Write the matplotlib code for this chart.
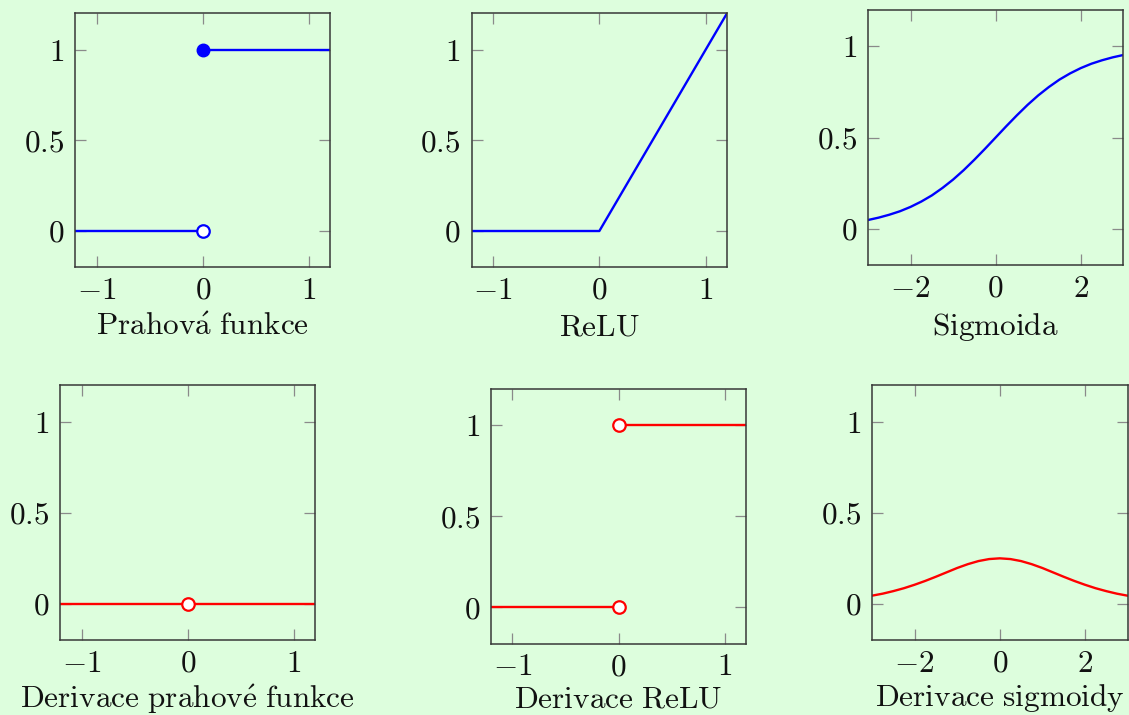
import matplotlib
matplotlib.use("Agg")
import matplotlib.pyplot as plt
from matplotlib.ticker import FuncFormatter

plt.rcParams['mathtext.fontset'] = 'cm'
plt.rcParams['font.family'] = 'serif'
plt.rcParams['font.serif'] = ['cmr10']
plt.rcParams['axes.formatter.use_mathtext'] = True

# ---- data ----
step_x_left = [-1.2, 0.0]
step_y_left = [0.0, 0.0]
step_x_right = [0.0, 1.2]
step_y_right = [1.0, 1.0]

relu_x = [-1.2, 0.0, 1.2]
relu_y = [0.0, 0.0, 1.2]

sig_x = [-3.0, -2.75, -2.5, -2.25, -2.0, -1.75, -1.5, -1.25, -1.0, -0.75, -0.5, -0.25,
         0.0, 0.25, 0.5, 0.75, 1.0, 1.25, 1.5, 1.75, 2.0, 2.25, 2.5, 2.75, 3.0]
sig_y = [0.047, 0.060, 0.076, 0.095, 0.119, 0.148, 0.182, 0.223, 0.269, 0.321, 0.378, 0.438,
         0.500, 0.562, 0.622, 0.679, 0.731, 0.777, 0.818, 0.852, 0.881, 0.905, 0.924, 0.940, 0.953]

dstep_x = [-1.2, 1.2]
dstep_y = [0.0, 0.0]

drelu_x_left = [-1.2, 0.0]
drelu_y_left = [0.0, 0.0]
drelu_x_right = [0.0, 1.2]
drelu_y_right = [1.0, 1.0]

dsig_y = [0.045, 0.056, 0.070, 0.086, 0.105, 0.126, 0.149, 0.173, 0.197, 0.218, 0.235, 0.246,
          0.250, 0.246, 0.235, 0.218, 0.197, 0.173, 0.149, 0.126, 0.105, 0.086, 0.070, 0.056, 0.045]

titles = [r'$\mathrm{Prahov\acute{a}\ funkce}$', r'$\mathrm{ReLU}$', r'$\mathrm{Sigmoida}$',
          r'$\mathrm{Derivace\ prahov\acute{e}\ funkce}$', r'$\mathrm{Derivace\ ReLU}$',
          r'$\mathrm{Derivace\ sigmoidy}$']
small_xticks = [-1, 0, 1]
big_xticks = [-2, 0, 2]
yticks = [0, 0.5, 1]

BG = '#ddfedd'
BLUE = '#0000ff'
RED = '#ff0000'
W, H = 1129, 715
FS = 22.5

fig = plt.figure(figsize=(W / 100, H / 100), dpi=100, facecolor=BG)

# pixel boxes: left, top, right, bottom
boxes = [
    (75.3, 13.3, 330.3, 267.3),
    (471.7, 13.3, 727.0, 267.3),
    (868.0, 10.0, 1123.3, 265.0),
    (60.3, 385.3, 315.3, 640.3),
    (491.0, 389.0, 746.0, 643.7),
    (872.0, 385.3, 1127.5, 640.3),
]

fmt = FuncFormatter(lambda v, p: '$%g$' % v)

axes = []
for (l, t, r, b) in boxes:
    ax = fig.add_axes([l / W, 1 - b / H, (r - l) / W, (b - t) / H])
    ax.set_facecolor(BG)
    for s in ax.spines.values():
        s.set_color('#383838')
        s.set_linewidth(1.1)
    ax.tick_params(direction='in', top=True, right=True, length=8, width=0.9,
                   color='#8a8a8a', labelsize=FS, labelcolor='#111111')
    ax.tick_params(axis='y', pad=8)
    ax.tick_params(axis='x', pad=7)
    ax.set_ylim(-0.2, 1.2)
    ax.set_yticks(yticks)
    ax.xaxis.set_major_formatter(fmt)
    ax.yaxis.set_major_formatter(fmt)
    axes.append(ax)

LW = 1.7
MS = 9

# 1 threshold
ax = axes[0]
ax.plot(step_x_left, step_y_left, color=BLUE, lw=LW)
ax.plot(step_x_right, step_y_right, color=BLUE, lw=LW)
ax.plot([step_x_right[0]], [step_y_right[0]], 'o', color=BLUE, ms=MS, zorder=5)
ax.plot([step_x_left[-1]], [step_y_left[-1]], 'o', mfc='white', mec=BLUE, mew=1.6, ms=MS, zorder=5)
ax.set_xlim(-1.2, 1.2)
ax.set_xticks(small_xticks)

# 2 ReLU
ax = axes[1]
ax.plot(relu_x, relu_y, color=BLUE, lw=LW)
ax.set_xlim(-1.2, 1.2)
ax.set_xticks(small_xticks)

# 3 sigmoid
ax = axes[2]
ax.plot(sig_x, sig_y, color=BLUE, lw=LW)
ax.set_xlim(-3, 3)
ax.set_xticks(big_xticks)

# 4 derivative threshold
ax = axes[3]
ax.plot(dstep_x, dstep_y, color=RED, lw=LW)
ax.plot([0.0], [0.0], 'o', mfc='white', mec=RED, mew=1.6, ms=MS, zorder=5)
ax.set_xlim(-1.2, 1.2)
ax.set_xticks(small_xticks)

# 5 derivative ReLU
ax = axes[4]
ax.plot(drelu_x_left, drelu_y_left, color=RED, lw=LW)
ax.plot(drelu_x_right, drelu_y_right, color=RED, lw=LW)
ax.plot([drelu_x_left[-1]], [drelu_y_left[-1]], 'o', mfc='white', mec=RED, mew=1.6, ms=MS, zorder=5)
ax.plot([drelu_x_right[0]], [drelu_y_right[0]], 'o', mfc='white', mec=RED, mew=1.6, ms=MS, zorder=5)
ax.set_xlim(-1.2, 1.2)
ax.set_xticks(small_xticks)

# 6 derivative sigmoid
ax = axes[5]
ax.plot(sig_x, dsig_y, color=RED, lw=LW)
ax.set_xlim(-3, 3)
ax.set_xticks(big_xticks)

for i, (ax, t) in enumerate(zip(axes, titles)):
    ax.set_xlabel(t, fontsize=FS, labelpad=6 if i < 3 else 3, color='#111111')

fig.savefig('out.png', dpi=100, facecolor=BG)
